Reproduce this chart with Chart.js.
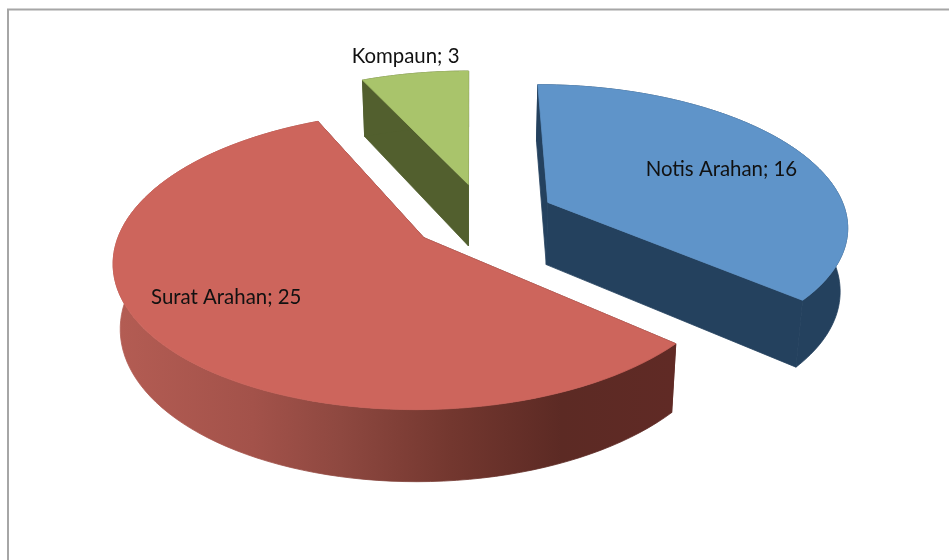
<!DOCTYPE html>
<html>
<head>
<meta charset="utf-8">
<script src="https://cdn.jsdelivr.net/npm/chart.js@4"></script>
<style>
html,body{margin:0;padding:0;background:#fff;overflow:hidden}
#wrap{position:relative;width:949px;height:560px}
canvas{display:block}
</style>
</head>
<body>
<div id="wrap"><canvas id="c" width="949" height="560"></canvas></div>
<script>
const categories = ["Notis Arahan", "Surat Arahan", "Kompaun"];
const seriesValues = [16, 25, 3];

// style only
const topColors = ["#5f94c9", "#cd655c", "#a9c46b"];
const sideColors = ["#24415e", "#602a25", "#525f2e"];
const explodeOffsets = [71, 46, 64];
const apexNudgeU = [0, 0, 0.05];
const apexNudgeV = [0, 0.018, 0];
const labelRadius = [0.65, 0.75, 1.2];
const labelNudgeX = [9, 3, 0];
const labelNudgeY = [2, -11, 2];
const view = { cx: 470, cy: 219, rx: 300, ry: 140, persp: 0.15, shrink: 0.98, depth: 63 };

function project(u, v, bottom) {
  const s = 1 / (1 - view.persp * v);
  let x = view.cx + view.rx * u * s;
  let y = view.cy + view.ry * v * s;
  if (bottom) {
    x = view.cx + (x - view.cx) * view.shrink;
    y = view.cy + (y - view.cy) * view.shrink + view.depth * s;
  }
  return [x, y];
}

function slicePoints(arc, i, bottom) {
  const p = arc.getProps(["startAngle", "endAngle", "outerRadius"], true);
  const mid = (p.startAngle + p.endAngle) / 2;
  const off = explodeOffsets[i] / p.outerRadius;
  const eu = Math.cos(mid) * off + apexNudgeU[i];
  const ev = Math.sin(mid) * off + apexNudgeV[i];
  const rim = [];
  const steps = 96;
  for (let k = 0; k <= steps; k++) {
    const a = p.startAngle + (p.endAngle - p.startAngle) * k / steps;
    rim.push(project(eu + Math.cos(a), ev + Math.sin(a), bottom));
  }
  return { apex: project(eu, ev, bottom), rim, eu, ev, mid };
}

function fillPoly(ctx, pts, fill) {
  ctx.beginPath();
  pts.forEach((q, n) => n ? ctx.lineTo(q[0], q[1]) : ctx.moveTo(q[0], q[1]));
  ctx.closePath();
  ctx.fillStyle = fill;
  ctx.fill();
  ctx.strokeStyle = fill;
  ctx.lineWidth = 0.8;
  ctx.stroke();
}

const pie3d = {
  id: "pie3d",
  beforeDraw(chart) {
    const ctx = chart.ctx;
    ctx.save();
    ctx.strokeStyle = "#a6a6a6";
    ctx.lineWidth = 2;
    ctx.beginPath();
    ctx.moveTo(8, 560);
    ctx.lineTo(8, 9.5);
    ctx.lineTo(949, 9.5);
    ctx.stroke();
    ctx.restore();
  },
  beforeDatasetsDraw(chart) {
    const ctx = chart.ctx;
    const arcs = chart.getDatasetMeta(0).data;
    ctx.save();
    [2, 0, 1].forEach(i => {
      const t = slicePoints(arcs[i], i, false);
      const b = slicePoints(arcs[i], i, true);
      let side = sideColors[i];
      if (i === 1) {
        const g = ctx.createLinearGradient(120, 0, 672, 0);
        g.addColorStop(0, "#b35c53");
        g.addColorStop(0.24, "#a3524a");
        g.addColorStop(0.4, "#8e4840");
        g.addColorStop(0.6, "#73372f");
        g.addColorStop(0.8, "#5c2a24");
        g.addColorStop(1, "#602a25");
        side = g;
      }
      // cut faces
      fillPoly(ctx, [t.apex, t.rim[0], b.rim[0], b.apex], sideColors[i]);
      fillPoly(ctx, [t.apex, t.rim[t.rim.length - 1], b.rim[b.rim.length - 1], b.apex], sideColors[i]);
      // rim wall
      fillPoly(ctx, t.rim.concat(b.rim.slice().reverse()), side);
      // top face
      fillPoly(ctx, [t.apex].concat(t.rim), topColors[i]);
    });
    // labels
    ctx.fillStyle = "#111";
    ctx.font = "20.4px Lato";
    ctx.textAlign = "center";
    ctx.textBaseline = "middle";
    arcs.forEach((arc, i) => {
      const t = slicePoints(arc, i, false);
      const q = project(t.eu + Math.cos(t.mid) * labelRadius[i], t.ev + Math.sin(t.mid) * labelRadius[i], false);
      ctx.fillText(categories[i] + "; " + seriesValues[i], q[0] + labelNudgeX[i], q[1] + labelNudgeY[i]);
    });
    ctx.restore();
    return false;
  }
};

new Chart(document.getElementById("c"), {
  type: "pie",
  data: {
    labels: categories,
    datasets: [{
      data: seriesValues,
      backgroundColor: topColors,
      offset: explodeOffsets,
      borderWidth: 0
    }]
  },
  options: {
    responsive: false,
    animation: false,
    plugins: { legend: { display: false }, tooltip: { enabled: false } }
  },
  plugins: [pie3d]
});
</script>
</body>
</html>
